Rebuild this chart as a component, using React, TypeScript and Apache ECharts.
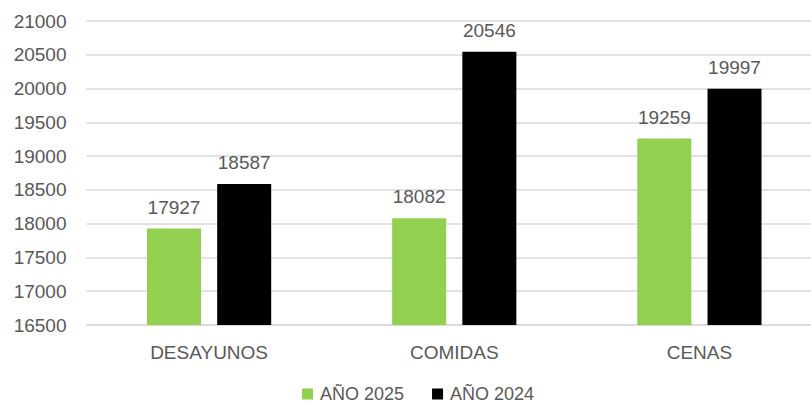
import React, { useEffect, useRef } from "react";
import * as echarts from "echarts";

const categories = ["DESAYUNOS", "COMIDAS", "CENAS"];
const serie2025 = [17927, 18082, 19259];
const serie2024 = [18587, 20546, 19997];
const seriesNames = ["AÑO 2025", "AÑO 2024"];

export default function App() {
  const ref = useRef<HTMLDivElement>(null);
  useEffect(() => {
    document.body.style.margin = "0";
    const chart = echarts.init(ref.current!, null, { renderer: "svg" });
    const font = "Liberation Sans, Arial, sans-serif";
    const labelStyle = {
      show: true,
      position: "top" as const,
      distance: 12,
      color: "#595959",
      fontSize: 19,
      fontFamily: font,
    };
    chart.setOption({
      animation: false,
      backgroundColor: "#ffffff",
      textStyle: { fontFamily: font },
      grid: { left: 86.5, right: 0, top: 21, bottom: 80, containLabel: false },
      legend: {
        data: seriesNames,
        left: 302,
        top: 385,
        padding: 0,
        itemWidth: 11,
        itemHeight: 11,
        itemGap: 28,
        icon: "rect",
        textStyle: { color: "#595959", fontSize: 18, lineHeight: 18, fontFamily: font, padding: [0, 0, 0, 2] },
      },
      xAxis: {
        type: "category",
        data: categories,
        axisTick: { show: false },
        axisLine: { lineStyle: { color: "#d9d9d9", width: 1.5 } },
        axisLabel: { color: "#595959", fontSize: 19, fontFamily: font, margin: 18 },
      },
      yAxis: {
        type: "value",
        min: 16500,
        max: 21000,
        interval: 500,
        axisLine: { show: false },
        axisTick: { show: false },
        splitLine: { lineStyle: { color: "#d9d9d9", width: 1.5 } },
        axisLabel: {
          color: "#595959",
          fontSize: 19,
          fontFamily: font,
          margin: 20,
          formatter: (v: number) => String(v),
        },
      },
      series: [
        {
          name: seriesNames[0],
          type: "bar",
          data: serie2025,
          barWidth: 54,
          barGap: "30%",
          itemStyle: { color: "#92D050" },
          label: labelStyle,
        },
        {
          name: seriesNames[1],
          type: "bar",
          data: serie2024,
          barWidth: 54,
          barGap: "30%",
          itemStyle: { color: "#000000" },
          label: labelStyle,
        },
      ],
    });
    return () => chart.dispose();
  }, []);
  return (
    <div style={{ width: 811, height: 405, overflow: "hidden", position: "relative" }}>
      <div ref={ref} style={{ width: 822, height: 405 }} />
    </div>
  );
}
